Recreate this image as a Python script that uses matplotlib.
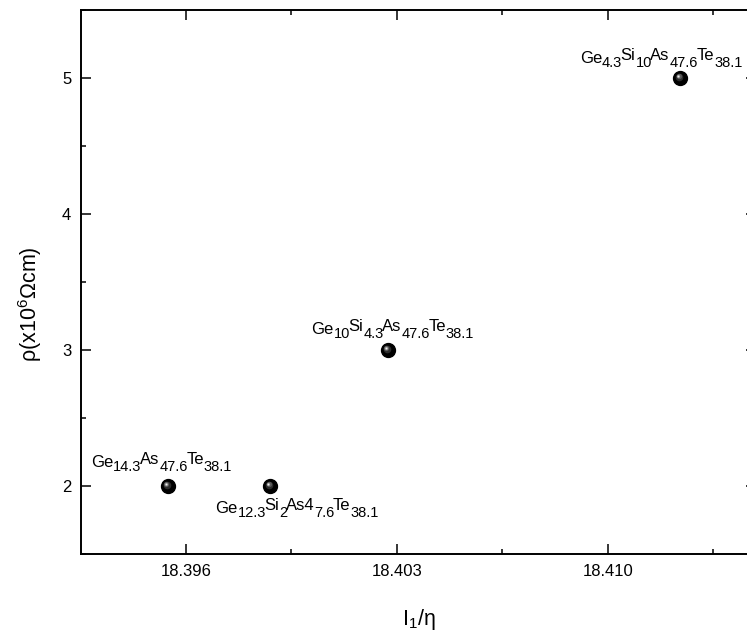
import matplotlib
matplotlib.use('Agg')
import matplotlib.pyplot as plt
from matplotlib.transforms import offset_copy
from matplotlib.ticker import FixedLocator, MultipleLocator, FormatStrFormatter

plt.rcParams['font.family'] = ['Liberation Sans', 'DejaVu Sans']
plt.rcParams['mathtext.fontset'] = 'custom'
plt.rcParams['mathtext.rm'] = 'Liberation Sans'
plt.rcParams['mathtext.it'] = 'Liberation Sans:italic'

# I1/eta against resistivity for the four glasses
i1_eta = [18.3954, 18.3988, 18.4027, 18.4124]
rho = [2, 2, 3, 5]
# compositions, alternating element / subscript
compositions = [
    ['Ge', '14.3', 'As', '47.6', 'Te', '38.1'],
    ['Ge', '12.3', 'Si', '2', 'As4', '7.6', 'Te', '38.1'],
    ['Ge', '10', 'Si', '4.3', 'As', '47.6', 'Te', '38.1'],
    ['Ge', '4.3', 'Si', '10', 'As', '47.6', 'Te', '38.1'],
]
# label centre / baseline offset from each point, in pixels
label_offsets = [(-7, 19), (26, -27), (4, 16), (-20, 15)]

x_major = [18.396, 18.403, 18.410]
x_minor = [18.3995, 18.4065, 18.4135]

fig = plt.figure(figsize=(7.47, 6.37), dpi=100)
ax = fig.add_axes([81/747, 83/637, 675/747, 544/637])

# spheres: black ball plus a soft highlight towards the top left
ax.plot(i1_eta, rho, 'o', color='black', ms=10, zorder=3)
shades = [(5.5, '#2c2c2c', -1.2, 1.2), (3.8, '#585858', -1.6, 1.6),
          (2.4, '#9a9a9a', -2.0, 2.0), (1.2, '#eeeeee', -2.3, 2.3)]
for ms, col, ox, oy in shades:
    tr = offset_copy(ax.transData, fig=fig, x=ox, y=oy, units='dots')
    ax.plot(i1_eta, rho, 'o', color=col, ms=ms, mec='none', transform=tr, zorder=4)

ax.set_xlim(18.39252, 18.41491)
ax.set_ylim(1.5, 5.5)

fig.canvas.draw()
renderer = fig.canvas.get_renderer()


def draw_formula(x, y, parts, dx, dy):
    pieces = []
    total = 0
    for i, p in enumerate(parts):
        if i % 2 == 1:
            size, shift, kern = 10.5, -4, -1.5
        else:
            size, shift, kern = 12, (0 if i == 0 else 3), 0
        t = ax.text(x, y, p, fontsize=size, ha='left', va='baseline')
        w = t.get_window_extent(renderer).width
        pieces.append((t, total, shift))
        total += w + kern
    for t, pos, shift in pieces:
        t.set_transform(offset_copy(ax.transData, fig=fig, x=dx - total/2 + pos,
                                    y=dy + shift, units='dots'))


for x, y, parts, (dx, dy) in zip(i1_eta, rho, compositions, label_offsets):
    draw_formula(x, y, parts, dx, dy)

ax.xaxis.set_major_locator(FixedLocator(x_major))
ax.xaxis.set_minor_locator(FixedLocator(x_minor))
ax.xaxis.set_major_formatter(FormatStrFormatter('%.3f'))
ax.yaxis.set_major_locator(MultipleLocator(1))
ax.yaxis.set_minor_locator(MultipleLocator(0.5))

ax.tick_params(which='both', direction='in', top=True, right=True, width=1.1,
               labelsize=12, pad=7)
ax.tick_params(which='major', length=7)
ax.tick_params(which='minor', length=3.6)
for s in ax.spines.values():
    s.set_linewidth(1.4)

ax.set_xlabel(r'I$_1$/η', fontsize=15.5, labelpad=20)
ax.set_ylabel(r'ρ(x10$^{6}$Ωcm)', fontsize=15.5)
ax.yaxis.set_label_coords(-0.055, 0.46)

fig.savefig('out.png', dpi=100)
